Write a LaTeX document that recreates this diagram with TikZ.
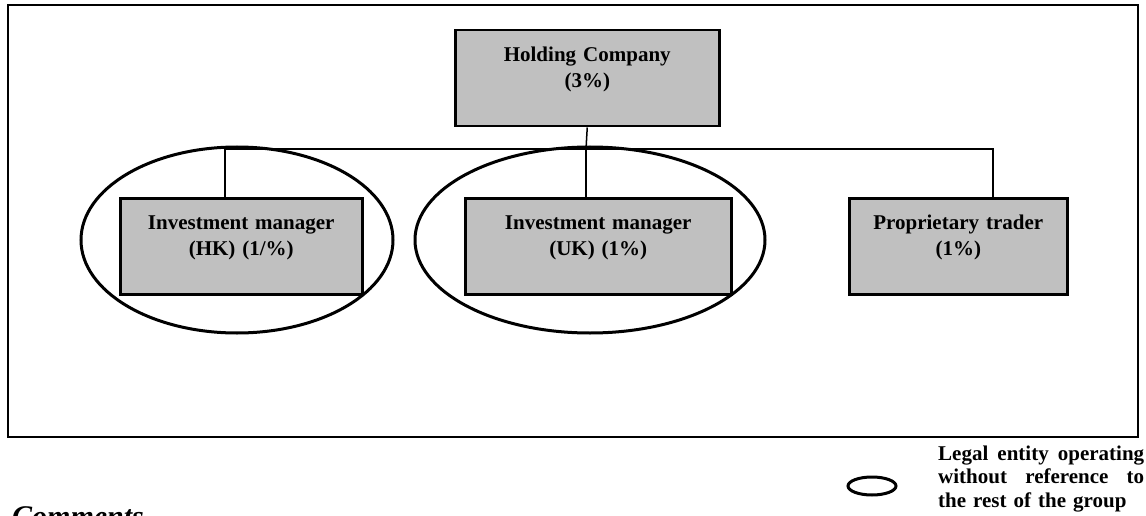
\documentclass[tikz,border=0pt]{standalone}
\usepackage{fontspec}
\setmainfont{Liberation Serif}
\definecolor{boxgray}{RGB}{192,192,192}
\tikzset{every node/.style={font=\fontsize{21}{26}\selectfont\bfseries},
  entity/.style={draw,line width=2.5pt,fill=boxgray,inner sep=0pt,align=center,text height=31pt,text depth=65pt,anchor=north west},
  link/.style={line width=1.5pt},ring/.style={line width=3pt},
  legendtext/.style={anchor=base west,inner sep=0pt,text width=206pt,align=left,font=\fontsize{21}{23.5}\selectfont\bfseries}}

\begin{document}
\begin{tikzpicture}[x=1pt,y=-1pt]
\useasboundingbox (0,0) rectangle (1146,516);
\draw[line width=2.5pt] (8,5) rectangle (1138,437);
% entities
\node[entity,text width=264pt] (hold) at (454,29) {Holding Company\\(3\%)};
\node[entity,text width=242pt] (hk) at (119,197) {Investment manager\\(HK) (1/\%)};
\node[entity,text width=266pt] (uk) at (464,197) {Investment manager\\(UK) (1\%)};
\node[entity,text width=218pt] (prop) at (848,197) {Proprietary trader\\(1\%)};
\coordinate (bus) at (586,149);\coordinate (busL) at (225,149);\coordinate (busR) at (993,149);
\draw[link] (hold.south)--(bus);
\draw[link] (busL|-hk.north)--(busL)--(busR)--(busR|-prop.north);
\draw[link] (bus)--(bus|-uk.north);
% legal entities
\draw[ring] (237,240) ellipse(156 and 93);
\draw[ring] (590,240) ellipse(175 and 93);
% legend
\draw[ring] (872,486) ellipse(24 and 9);
\node[legendtext] (legend) at (938,460) {Legal\hfill entity\hfill operating\\without\hfill reference\hfill to\\the rest of the group};
\node[anchor=base west,inner sep=0pt,font=\fontsize{30}{36}\selectfont\bfseries\itshape] (comments) at (12,526) {Comments};
\end{tikzpicture}
\end{document}
